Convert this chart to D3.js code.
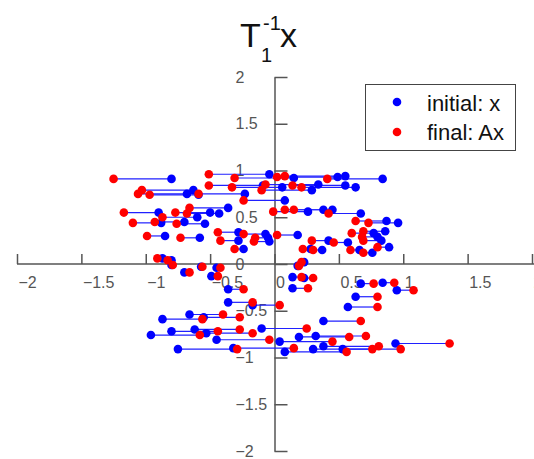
<!DOCTYPE html>
<html>
<head>
<meta charset="utf-8">
<script src="https://cdn.jsdelivr.net/npm/d3@7"></script>
<style>
  body { margin: 0; background: #fff; }
  svg { display: block; font-family: "Liberation Sans", Arial, sans-serif; }
</style>
</head>
<body>
<div id="chart"></div>
<script>
// each pair: same y, initial x (blue) and final x (red)
const yValues = [
  0.91, 0.96, 0.92, 0.94, 0.91, 0.93, 0.79, 0.75, 0.74, 0.75,
  0.84, 0.82, 0.85, 0.79, 0.84, 0.82, 0.68, 0.55, 0.44, 0.45,
  0.50, 0.60, 0.54, 0.55, 0.43, 0.30, 0.28, 0.34, 0.32, 0.28,
  0.31, 0.25, 0.25, 0.16, 0.16, 0.56, 0.58, 0.58, 0.54, 0.46,
  0.44, 0.33, 0.35, 0.25, 0.29, 0.23, 0.12, 0.18, 0.15, 0.15,
  0.24, 0.02, 0.06, 0.04,
  -0.01, -0.09, -0.13, -0.03, -0.04, -0.02, -0.14, -0.15, -0.26, -0.21,
  -0.20, -0.28, -0.27, -0.41, -0.44, -0.35, -0.46, -0.54, -0.59, -0.57,
  -0.61, -0.69, -0.76, -0.72, -0.70, -0.74, -0.78, -0.77, -0.83, -0.81,
  -0.85, -0.91, -0.91, -0.90, -0.94, -0.91, -0.88
];
const initialX = [
  -0.80, -0.04, 0.15, 0.55, 0.84, 0.49, -0.63, -0.68, -0.59, -0.23,
  -0.09, 0.06, 0.34, 0.29, 0.55, 0.63, 0.08, -0.90, -0.88, -0.70,
  -0.60, -0.36, -0.43, -0.50, -0.54, -0.85, -0.58, -0.28, -0.07, -0.05,
  0.18, 0.42, -0.28, -0.24, 0.28, 0.26, 0.38, 0.45, 0.67, 0.87,
  0.96, 0.77, 0.86, 0.83, 0.80, 0.57, 0.76, 0.89, 0.66, 0.37,
  -0.04, 0.23, -0.87, -0.80,
  -0.80, -0.70, -0.49, -0.57, -0.45, 0.18, 0.14, 0.23, 0.14, 0.67,
  0.84, 0.95, -0.36, -0.36, -0.17, 0.63, 0.57, -0.66, -0.87, -0.55,
  0.38, -0.10, -0.96, -0.80, -0.62, -0.53, 0.19, 0.32, 0.04, -0.45,
  0.94, 0.53, -0.75, -0.32, 0.08, 0.30, 0.38
];
const finalX = [
  -1.25, -0.51, -0.31, 0.08, 0.41, 0.02, -1.03, -1.06, -0.97, -0.59,
  -0.51, -0.33, -0.07, -0.10, 0.14, 0.21, -0.24, -1.17, -1.10, -0.93,
  -0.87, -0.66, -0.68, -0.77, -0.76, -0.99, -0.73, -0.44, -0.24, -0.15,
  0.02, 0.29, -0.42, -0.31, 0.22, -0.01, 0.08, 0.15, 0.42, 0.63,
  0.73, 0.60, 0.69, 0.69, 0.68, 0.46, 0.69, 0.80, 0.59, 0.30,
  -0.16, 0.21, -0.91, -0.83,
  -0.79, -0.66, -0.44, -0.56, -0.42, 0.19, 0.21, 0.30, 0.26, 0.77,
  0.93, 1.08, -0.24, -0.17, 0.04, 0.80, 0.80, -0.40, -0.56, -0.27,
  0.67, 0.25, -0.58, -0.44, -0.27, -0.17, 0.58, 0.71, 0.45, -0.04,
  1.36, 0.98, -0.29, 0.15, 0.56, 0.76, 0.81
];
const tickValues = [-2, -1.5, -1, -0.5, 0, 0.5, 1, 1.5, 2];
const legendLabels = ['initial: x', 'final: Ax'];
const legendColors = ['#0000ff', '#ff0000'];

const width = 534, height = 459;
const svg = d3.select('#chart').append('svg')
  .attr('width', width).attr('height', height);

const x = d3.scaleLinear().domain([-2, 2]).range([17, 532]);
const y = d3.scaleLinear().domain([-2, 2]).range([451, 77]);

const axisColor = '#555';
const dotR = 4.3;

// x axis through y = 0, ticks pointing up, labels below and left-aligned
const xAxis = svg.append('g')
  .attr('transform', `translate(0,${y(0)})`)
  .call(d3.axisBottom(x).tickValues(tickValues).tickSize(-10).tickSizeOuter(0)
    .tickPadding(13).tickFormat(d3.format('')));
xAxis.select('.domain').attr('stroke', axisColor).attr('stroke-width', 1.5)
  .attr('d', `M${x(-2)},0H${width}`);
xAxis.selectAll('.tick line').attr('stroke', axisColor).attr('stroke-width', 1.5);
xAxis.selectAll('.tick text')
  .attr('text-anchor', 'start').attr('x', 1)
  .attr('fill', axisColor).style('font-size', '16px')
  .style('font-family', '"Liberation Sans", Arial, sans-serif');

// y axis through x = 0, ticks pointing right, labels left-aligned to its left
const yAxis = svg.append('g')
  .attr('transform', `translate(${x(0)},0)`)
  .call(d3.axisLeft(y).tickValues(tickValues).tickSize(-13).tickSizeOuter(0)
    .tickFormat(d3.format('')));
yAxis.select('.domain').attr('stroke', axisColor).attr('stroke-width', 1.5);
yAxis.selectAll('.tick line').attr('stroke', axisColor).attr('stroke-width', 1.5);
yAxis.selectAll('.tick text')
  .attr('text-anchor', 'start').attr('x', -39)
  .attr('fill', axisColor).style('font-size', '16px')
  .style('font-family', '"Liberation Sans", Arial, sans-serif');

const pairs = yValues.map((v, i) => ({ y: v, x0: initialX[i], x1: finalX[i] }));

// connecting lines
svg.append('g').selectAll('line')
  .data(pairs)
  .join('line')
  .attr('x1', d => x(d.x0)).attr('x2', d => x(d.x1))
  .attr('y1', d => y(d.y)).attr('y2', d => y(d.y))
  .attr('stroke', '#2020ff').attr('stroke-width', 1.2);

svg.append('g').selectAll('circle')
  .data(pairs)
  .join('circle')
  .attr('cx', d => x(d.x0)).attr('cy', d => y(d.y)).attr('r', dotR)
  .attr('fill', legendColors[0]);

svg.append('g').selectAll('circle')
  .data(pairs)
  .join('circle')
  .attr('cx', d => x(d.x1)).attr('cy', d => y(d.y)).attr('r', dotR)
  .attr('fill', legendColors[1]);

// title T_1^{-1} x
const title = svg.append('g').attr('fill', '#111');
title.append('text').attr('x', 240).attr('y', 47).style('font-size', '34px').text('T');
title.append('text').attr('x', 263).attr('y', 30).style('font-size', '20px').text('-1');
title.append('text').attr('x', 261).attr('y', 62).style('font-size', '20px').text('1');
title.append('text').attr('x', 280).attr('y', 47).style('font-size', '34px').text('x');

// legend
const legend = svg.append('g');
legend.append('rect')
  .attr('x', 365.5).attr('y', 84.5).attr('width', 150).attr('height', 66)
  .attr('fill', '#fff').attr('stroke', '#444').attr('stroke-width', 1);
legendLabels.forEach((label, i) => {
  legend.append('circle').attr('cx', 397).attr('cy', 102 + i * 30).attr('r', dotR)
    .attr('fill', legendColors[i]);
  legend.append('text').attr('x', 427).attr('y', 111 + i * 29)
    .style('font-size', '22px').attr('fill', '#111').text(label);
});
</script>
</body>
</html>
